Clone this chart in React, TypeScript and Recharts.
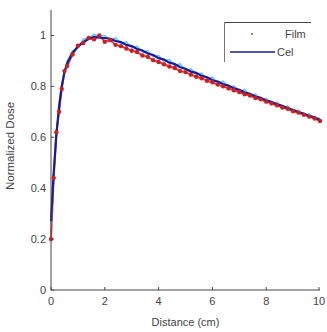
import React from 'react';
import { ComposedChart, Line, Scatter, XAxis, YAxis } from 'recharts';

const distance = [
  0, 0.1, 0.2, 0.3, 0.4, 0.5, 0.6, 0.8, 1.0, 1.2, 1.4, 1.6, 1.8,
  2.0, 2.2, 2.4, 2.6, 2.8, 3.0, 3.2, 3.4, 3.6, 3.8, 4.0, 4.2, 4.4, 4.6, 4.8,
  5.0, 5.2, 5.4, 5.6, 5.8, 6.0, 6.2, 6.4, 6.6, 6.8, 7.0, 7.2, 7.4, 7.6, 7.8,
  8.0, 8.2, 8.4, 8.6, 8.8, 9.0, 9.2, 9.4, 9.6, 9.8, 10.0,
];

const celDose = [
  0.27, 0.46, 0.61, 0.72, 0.8, 0.855, 0.89, 0.932, 0.956, 0.975, 0.986, 0.994, 0.991,
  0.99, 0.987, 0.978, 0.974, 0.963, 0.958, 0.947, 0.941, 0.929, 0.923, 0.911, 0.905, 0.893, 0.888, 0.875,
  0.869, 0.858, 0.853, 0.841, 0.836, 0.824, 0.819, 0.808, 0.803, 0.792, 0.787, 0.776, 0.771, 0.76, 0.755,
  0.744, 0.739, 0.729, 0.724, 0.713, 0.708, 0.698, 0.693, 0.683, 0.678, 0.668,
];

const celRaw = [
  0.26, 0.47, 0.6, 0.73, 0.81, 0.85, 0.9, 0.94, 0.95, 0.985, 0.99, 1.004, 0.998,
  1.0, 0.981, 0.99, 0.969, 0.975, 0.951, 0.958, 0.934, 0.94, 0.916, 0.921, 0.899, 0.906, 0.88, 0.889,
  0.861, 0.869, 0.846, 0.852, 0.829, 0.836, 0.811, 0.82, 0.796, 0.802, 0.78, 0.787, 0.763, 0.77, 0.748,
  0.753, 0.731, 0.738, 0.717, 0.723, 0.7, 0.707, 0.686, 0.692, 0.671, 0.676,
];

const filmDose = [
  0.2, 0.44, 0.62, 0.7, 0.79, 0.86, 0.88, 0.925, 0.96, 0.97, 0.99, 0.985, 1.0,
  0.975, 0.982, 0.963, 0.958, 0.949, 0.94, 0.935, 0.921, 0.916, 0.903, 0.896, 0.887, 0.878, 0.872, 0.86,
  0.856, 0.846, 0.838, 0.832, 0.822, 0.816, 0.807, 0.8, 0.792, 0.785, 0.778, 0.769, 0.764, 0.754, 0.749,
  0.74, 0.733, 0.726, 0.717, 0.712, 0.702, 0.697, 0.688, 0.681, 0.674, 0.664,
];

const xTicks = [0, 2, 4, 6, 8, 10];
const yTicks = [0, 0.2, 0.4, 0.6, 0.8, 1];

const data = distance.map((x, i) => ({
  x,
  cel: celDose[i],
  raw: celRaw[i],
  film: filmDose[i],
}));

const textColor = '#444';
const font = '"Liberation Sans", Arial, sans-serif';

// ticks point inward, matlab style
const XTick = ({ x, y, payload }: any) => (
  <g>
    <line x1={x} x2={x} y1={y} y2={y - 3} stroke="#444" />
    <text x={x} y={y + 15} textAnchor="middle" fontSize={11} fill={textColor} fontFamily={font}>
      {payload.value}
    </text>
  </g>
);

const YTick = ({ x, y, payload }: any) => (
  <g>
    <line x1={x} x2={x + 3} y1={y} y2={y} stroke="#444" />
    <text x={x - 5} y={y + 4} textAnchor="end" fontSize={11} fill={textColor} fontFamily={font}>
      {payload.value}
    </text>
  </g>
);

const RTick = ({ x, y }: any) => <line x1={x} x2={x - 3} y1={y} y2={y} stroke="#444" />;

const LegendBox = () => (
  <svg width={100} height={50} style={{ position: 'absolute', left: 224, top: 22, overflow: 'visible' }}>
    <line x1={0} x2={87} y1={0.5} y2={0.5} stroke="#444" />
    <line x1={0.5} x2={0.5} y1={0} y2={40} stroke="#777" />
    <circle cx={28} cy={12} r={1} fill="#c0392b" />
    <text x={61} y={16} fontSize={11} fill={textColor} fontFamily={font}>Film</text>
    <line x1={6} x2={51} y1={30} y2={30} stroke="#1a1a8c" strokeWidth={1.5} />
    <text x={53} y={34} fontSize={11} fill={textColor} fontFamily={font}>Cel</text>
  </svg>
);

export default function App() {
  return (
    <div style={{ position: 'absolute', left: 0, top: 0, width: 327, height: 332, background: '#fff' }}>
      <ComposedChart width={327} height={332} data={data} margin={{ top: 10, right: 7, bottom: 0, left: 0 }}>
        <XAxis
          dataKey="x"
          type="number"
          domain={[0, 10]}
          ticks={xTicks}
          tick={<XTick />}
          tickLine={false}
          tickSize={0}
          tickMargin={0}
          axisLine={{ stroke: '#444' }}
          height={42}
          label={{ value: 'Distance (cm)', position: 'insideBottom', offset: 6, fontSize: 11, fill: textColor, fontFamily: font }}
        />
        <YAxis
          yAxisId="l"
          type="number"
          domain={[0, 1.1]}
          ticks={yTicks}
          tick={<YTick />}
          tickLine={false}
          tickSize={0}
          tickMargin={0}
          axisLine={{ stroke: '#444' }}
          width={51}
          allowDataOverflow
          label={{ value: 'Normalized Dose', angle: -90, position: 'insideLeft', offset: 10, dy: 40, fontSize: 11.5, fill: textColor, fontFamily: font }}
        />
        <YAxis
          yAxisId="r"
          orientation="right"
          type="number"
          domain={[0, 1.1]}
          ticks={yTicks}
          tick={<RTick />}
          tickLine={false}
          tickSize={0}
          tickMargin={0}
          axisLine={{ stroke: '#444' }}
          width={0}
        />
        <Line yAxisId="l" dataKey="film" stroke="#e04040" strokeWidth={2} dot={false} isAnimationActive={false} />
        <Scatter yAxisId="l" dataKey="film" fill="#d42020" shape={(p: any) => <circle cx={p.cx} cy={p.cy} r={2.2} fill="#cc1f1f" />} isAnimationActive={false} />
        <Line yAxisId="l" dataKey="raw" stroke="#5ec8f0" strokeWidth={1.5} dot={false} isAnimationActive={false} />
        <Line yAxisId="l" dataKey="cel" stroke="#1a1a9c" strokeWidth={2.2} dot={false} isAnimationActive={false} />
      </ComposedChart>
      <LegendBox />
    </div>
  );
}
